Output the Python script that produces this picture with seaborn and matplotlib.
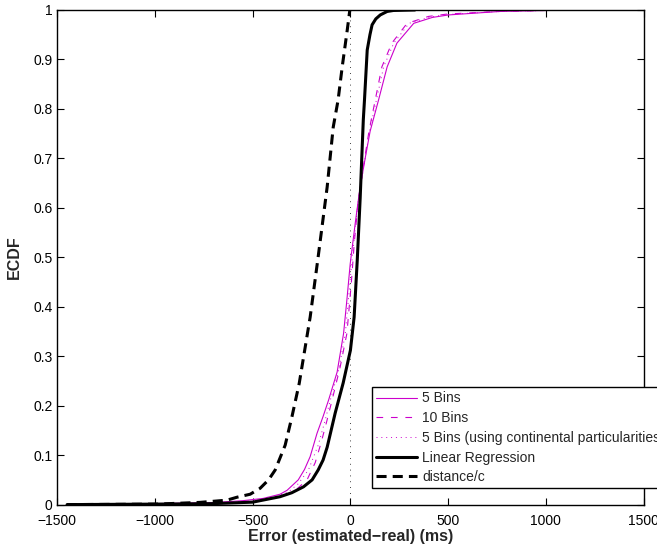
import numpy as np
import matplotlib
matplotlib.use("Agg")
import matplotlib.pyplot as plt
import seaborn as sns

# error (ms) / ECDF values
bins5_x = [-1445, -1000, -700, -550, -447, -360, -324, -267, -235, -206, -171, -140, -112, -68, -35, -18, -1,
           25, 42, 60, 80, 101, 144, 188, 238, 324, 420, 503, 765, 1000, 1373]
bins5_y = [0, 0.002, 0.004, 0.008, 0.0125, 0.021, 0.029, 0.05, 0.071, 0.097, 0.144, 0.178, 0.211, 0.268, 0.346, 0.414, 0.487,
           0.57, 0.62, 0.665, 0.71, 0.755, 0.818, 0.885, 0.933, 0.973, 0.985, 0.99, 0.997, 0.999, 1.0]

bins10_x = [-1445, -1000, -700, -500, -400, -320, -270, -222, -180, -150, -120, -94, -52, -18, 5,
            20, 40, 65, 95, 127, 161, 212, 290, 400, 500, 765, 1000, 1360]
bins10_y = [0, 0.001, 0.003, 0.007, 0.013, 0.022, 0.033, 0.05, 0.085, 0.125, 0.17, 0.211, 0.279, 0.346, 0.45,
            0.53, 0.615, 0.68, 0.755, 0.818, 0.885, 0.933, 0.973, 0.987, 0.992, 0.997, 0.999, 1.0]

cont_x = [-1445, -1000, -700, -500, -400, -320, -267, -215, -165, -133, -103, -60, -26, 0,
          20, 40, 65, 98, 133, 170, 222, 300, 410, 500, 765, 1000, 1365]
cont_y = [0, 0.0015, 0.0035, 0.0075, 0.0145, 0.025, 0.042, 0.07, 0.12, 0.165, 0.211, 0.272, 0.346, 0.46,
          0.54, 0.615, 0.675, 0.755, 0.818, 0.885, 0.933, 0.973, 0.986, 0.991, 0.997, 0.999, 1.0]

lr_x = [-1450, -1000, -700, -500, -411, -360, -300, -240, -196, -165, -140, -119, -78, -37, 0, 19, 35,
        50, 58, 66, 72, 86, 100, 111, 130, 153, 188, 220, 330]
lr_y = [0, 0.001, 0.002, 0.005, 0.012, 0.016, 0.024, 0.036, 0.05, 0.07, 0.09, 0.116, 0.185, 0.246, 0.312, 0.379, 0.494,
        0.62, 0.70, 0.778, 0.818, 0.919, 0.95, 0.97, 0.982, 0.99, 0.997, 0.999, 1.0]

dc_x = [-1450, -990, -770, -632, -580, -513, -462, -419, -385, -334, -299, -262, -206, -165,
        -119, -88, -63, -42, -16, -3]
dc_y = [0, 0.001, 0.0045, 0.009, 0.015, 0.021, 0.033, 0.05, 0.07, 0.12, 0.178, 0.245, 0.379, 0.501,
        0.642, 0.763, 0.818, 0.885, 0.96, 1.0]

xticks = [-1500, -1000, -500, 0, 500, 1000, 1500]
yticks = [0, 0.1, 0.2, 0.3, 0.4, 0.5, 0.6, 0.7, 0.8, 0.9, 1]
ytick_labels = ["0", "0.1", "0.2", "0.3", "0.4", "0.5", "0.6", "0.7", "0.8", "0.9", "1"]

sns.set_style("ticks")
plt.rcParams["font.family"] = ["Liberation Sans", "DejaVu Sans"]
plt.rcParams["font.size"] = 10

mag = "#cc00cc"

fig = plt.figure(figsize=(6.57, 5.45), dpi=100)
ax = fig.add_axes([0.0872, 0.0741, 0.8923, 0.9076])

ax.axvline(0, color="k", linewidth=0.6, linestyle=(0, (1, 6)))

sns.lineplot(x=bins5_x, y=bins5_y, ax=ax, color=mag, linewidth=0.8, label="5 Bins")
sns.lineplot(x=bins10_x, y=bins10_y, ax=ax, color=mag, linewidth=0.8, linestyle=(0, (6, 7)), label="10 Bins")
sns.lineplot(x=cont_x, y=cont_y, ax=ax, color=mag, linewidth=0.7, linestyle=(0, (1, 4)),
             label="5 Bins (using continental particularities)")
sns.lineplot(x=lr_x, y=lr_y, ax=ax, color="k", linewidth=2.2, label="Linear Regression")
sns.lineplot(x=dc_x, y=dc_y, ax=ax, color="k", linewidth=2.2, linestyle=(0, (3.3, 2.0)), label="distance/c")

ax.set_xlim(-1500, 1500)
ax.set_ylim(0, 1)
ax.set_xticks(xticks)
ax.set_yticks(yticks)
ax.set_yticklabels(ytick_labels)
ax.tick_params(direction="in", top=True, right=True, length=5, width=0.8, labelsize=10, colors="k")
ax.tick_params(axis="x", pad=7)
for s in ax.spines.values():
    s.set_color("k")
    s.set_linewidth(1.0)

ax.set_xlabel("Error (estimated\u2212real) (ms)", fontsize=11.5, fontweight="bold", labelpad=0.5)
ax.set_ylabel("ECDF", fontsize=11.5, fontweight="bold", labelpad=8)

leg = ax.legend(loc="upper left", bbox_to_anchor=(0.5658, 0.2894), bbox_transform=fig.transFigure,
                borderaxespad=0, frameon=True, fancybox=False, framealpha=1, edgecolor="k",
                fontsize=10, handlelength=2.95, handletextpad=0.4, labelspacing=0.41, borderpad=0.3)
leg.get_frame().set_linewidth(1.0)

fig.savefig("out.png", dpi=100)
